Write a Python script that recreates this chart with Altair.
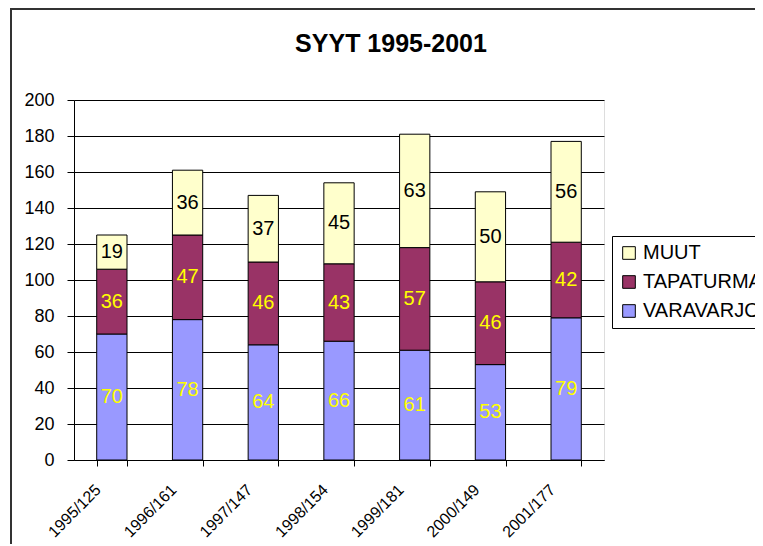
import altair as alt
import pandas as pd

categories = ["1995/125", "1996/161", "1997/147", "1998/154", "1999/181", "2000/149", "2001/177"]
series = ["VARAVARJO", "TAPATURMA", "MUUT"]
varavarjo = [70, 78, 64, 66, 61, 53, 79]
tapaturma = [36, 47, 46, 43, 57, 46, 42]
muut = [19, 36, 37, 45, 63, 50, 56]
colors = ["#9999FF", "#993366", "#FFFFCC"]
label_colors = ["#FFFF00", "#FFFF00", "#000000"]
y_ticks = list(range(0, 201, 20))

rows = []
for i, c in enumerate(categories):
    for k, (s, vals) in enumerate(zip(series, [varavarjo, tapaturma, muut])):
        rows.append({"cat": c, "series": s, "value": vals[i], "ord": k})
df = pd.DataFrame(rows)

FONT = "Liberation Sans"

base = alt.Chart(df).transform_stack(
    stack="value", groupby=["cat"], as_=["v0", "v1"],
    sort=[alt.SortField("ord", order="ascending")]
)

x_axis = alt.Axis(labelAngle=315, labelAlign="right", labelBaseline="middle",
                  labelFontSize=16, labelFont=FONT, labelColor="#000000",
                  tickBand="extent", tickSize=6, tickColor="#000000",
                  domainColor="#000000", labelPadding=21, labelOffset=-14, grid=False)
x_scale = alt.Scale(paddingInner=0.6, paddingOuter=0.3)
y_scale = alt.Scale(domain=[0, 200], nice=False)
y_axis = alt.Axis(values=y_ticks, labelFontSize=18, labelFont=FONT, labelColor="#000000",
                  tickSize=7, tickColor="#000000", domainColor="#000000",
                  gridColor="#000000", gridWidth=1, labelPadding=13, labelOverlap=False)

bars = base.mark_bar(stroke="#000000", strokeWidth=1).encode(
    x=alt.X("cat:N", sort=categories, title=None, scale=x_scale, axis=x_axis),
    y=alt.Y("v0:Q", scale=y_scale, title=None, axis=y_axis),
    y2="v1:Q",
    color=alt.Color("series:N", scale=alt.Scale(domain=["MUUT", "TAPATURMA", "VARAVARJO"],
                                                range=[colors[2], colors[1], colors[0]]),
                    legend=alt.Legend(title=None, orient="none", legendX=538, legendY=136,
                                      symbolType="square", symbolSize=160, symbolStrokeColor="#000000",
                                      symbolStrokeWidth=1, symbolOpacity=1,
                                      labelFontSize=20, labelFont=FONT, labelColor="#000000",
                                      strokeColor="#000000", padding=7, rowPadding=9,
                                      fillColor="#FFFFFF", labelLimit=300)),
)

texts = base.transform_calculate(mid="(datum.v0 + datum.v1) / 2").mark_text(
    fontSize=20, font=FONT, baseline="middle", align="center"
).encode(
    x=alt.X("cat:N", sort=categories, title=None, scale=x_scale, axis=x_axis),
    y=alt.Y("mid:Q", scale=y_scale, title=None, axis=y_axis),
    text=alt.Text("value:Q"),
    color=alt.Color("series:N", scale=alt.Scale(domain=series, range=label_colors), legend=None),
)

frame = alt.Chart(pd.DataFrame({"a": [0]})).mark_rect(
    fillOpacity=0, stroke="#333333", strokeWidth=2
).encode(x=alt.value(-63), x2=alt.value(900), y=alt.value(-91), y2=alt.value(700))

chart = alt.layer(frame, bars, texts).resolve_scale(color="independent").properties(
    width=530, height=360,
    title=alt.TitleParams("SYYT 1995-2001", fontSize=25, font=FONT, fontWeight="bold",
                          anchor="middle", frame="group", dx=52, dy=69, offset=0,
                          baseline="alphabetic", color="#000000"),
    autosize=alt.AutoSizeParams(type="none"),
    padding={"left": 66, "top": 92, "right": 151, "bottom": 84},
).configure_view(fill="#C0C0C0", stroke="#808080").configure(background="#FFFFFF")

chart.save("out.html", embed_options={"renderer": "svg", "actions": False})
